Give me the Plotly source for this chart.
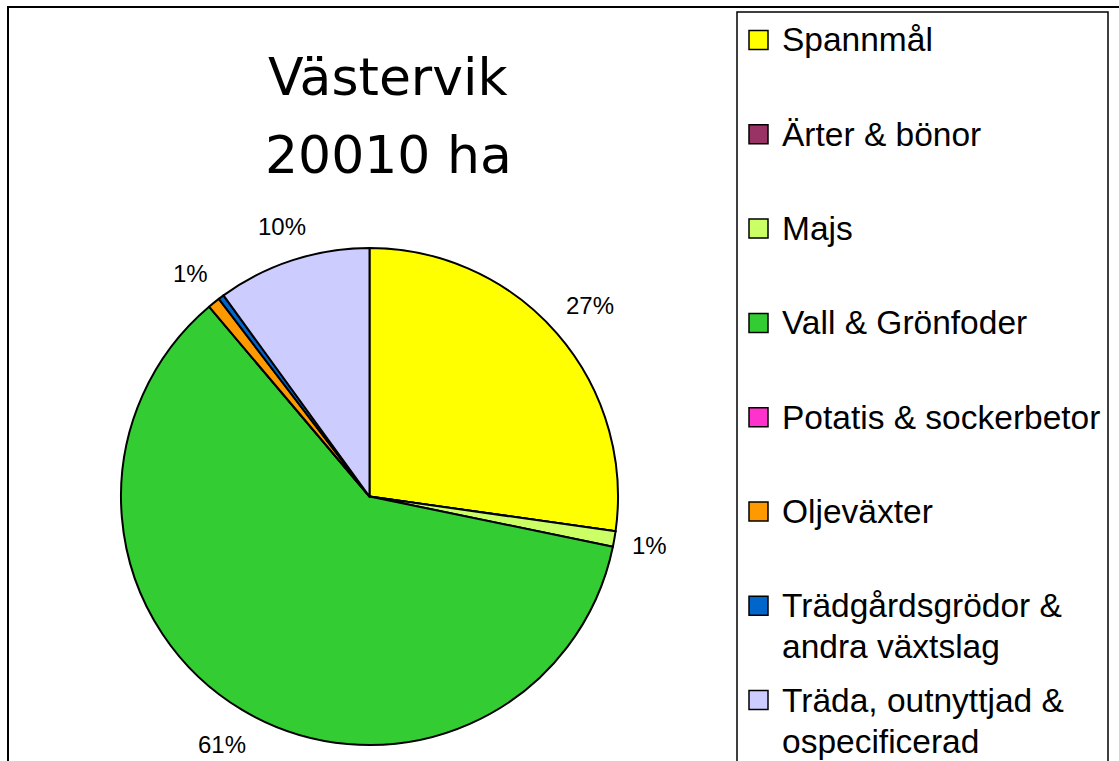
import math
import plotly.graph_objects as go

# ---- data ----
categories = ["Spannmål", "Ärter & bönor", "Majs", "Vall & Grönfoder",
              "Potatis & sockerbetor", "Oljeväxter",
              "Trädgårdsgrödor & andra växtslag",
              "Träda, outnyttjad & ospecificerad"]
hectares = [5450, 0, 200, 12125, 0, 160, 75, 2000]
colors = ["#FFFF00", "#993366", "#CCFF66", "#33CC33",
          "#FF33CC", "#FF9900", "#0066CC", "#CCCCFF"]
title_lines = ["Västervik", "20010 ha"]

W, H = 1119, 761
CX, CY, R = 369.5, 496.5, 248.5

def px(x):
    return x / W

def py(y):
    return 1 - y / H

fig = go.Figure(go.Pie(
    labels=categories, values=hectares, sort=False, direction="clockwise",
    rotation=0, textinfo="none", showlegend=False,
    marker=dict(colors=colors, line=dict(color="#000000", width=2)),
    domain=dict(x=[px(CX - R), px(CX + R)], y=[py(CY + R), py(CY - R)]),
    hoverinfo="label+value+percent",
))

annotations = []
shapes = []

# percentage labels outside the slices
total = sum(hectares)
cum = 0.0
LBL_FS = 24
charw = {"%": 0.889}
for v in hectares:
    frac = v / total
    mid = cum + frac / 2
    cum += frac
    pct = round(frac * 100)
    if pct == 0:
        continue
    txt = f"{pct}%"
    wem = sum(charw.get(c, 0.556) for c in txt)
    hw = wem * LBL_FS / 2
    hh = 12
    th = mid * 2 * math.pi
    s, c = math.sin(th), math.cos(th)
    dist = R + 17 + hw * abs(s) + hh * abs(c)
    x = CX + dist * s
    y = CY - dist * c
    annotations.append(dict(x=px(x), y=py(y), xref="paper", yref="paper",
                            text=txt, showarrow=False, xanchor="center", yanchor="middle",
                            font=dict(family="Liberation Sans, Arial", size=LBL_FS, color="#000")))

# title
for i, line in enumerate(title_lines):
    annotations.append(dict(x=px(388), y=py(77 + i * 78), xref="paper", yref="paper",
                            text=line, showarrow=False, xanchor="center", yanchor="middle",
                            font=dict(family="DejaVu Sans, Verdana", size=52, color="#000")))

# legend (manual, Excel-like)
LEG_TOP = 40
LEG_STEP = 94.3
LEG_FS = 33.5
LINE_GAP = 41
for i, (name, col) in enumerate(zip(categories, colors)):
    yc = LEG_TOP + i * LEG_STEP
    shapes.append(dict(type="rect", xref="paper", yref="paper",
                       x0=px(749), x1=px(768), y0=py(yc + 9.5), y1=py(yc - 9.5),
                       fillcolor=col, line=dict(color="#000", width=1.5)))
    if len(name) > 25:
        k = name.rfind("& ")
        lines = [name[:k + 1], name[k + 2:]]
    else:
        lines = [name]
    for j, ln in enumerate(lines):
        annotations.append(dict(x=px(780), y=py(yc + j * LINE_GAP), xref="paper", yref="paper",
                                text=ln, showarrow=False, xanchor="left", yanchor="middle",
                                font=dict(family="Liberation Sans, Arial", size=LEG_FS, color="#000")))

# legend box and outer frame
shapes.append(dict(type="rect", xref="paper", yref="paper",
                   x0=px(737), x1=px(1108), y0=py(H + 20), y1=py(12),
                   line=dict(color="#000", width=1.5), fillcolor="rgba(0,0,0,0)"))
shapes.append(dict(type="rect", xref="paper", yref="paper",
                   x0=px(8), x1=px(W + 20), y0=py(H + 20), y1=py(7),
                   line=dict(color="#000", width=2), fillcolor="rgba(0,0,0,0)"))

fig.update_layout(width=W, height=H, margin=dict(l=0, r=0, t=0, b=0),
                  paper_bgcolor="white", plot_bgcolor="white",
                  annotations=annotations, shapes=shapes)

fig.write_html("out.html", config={"displayModeBar": False},
               post_script="document.body.style.margin='0';document.body.style.overflow='hidden';")
